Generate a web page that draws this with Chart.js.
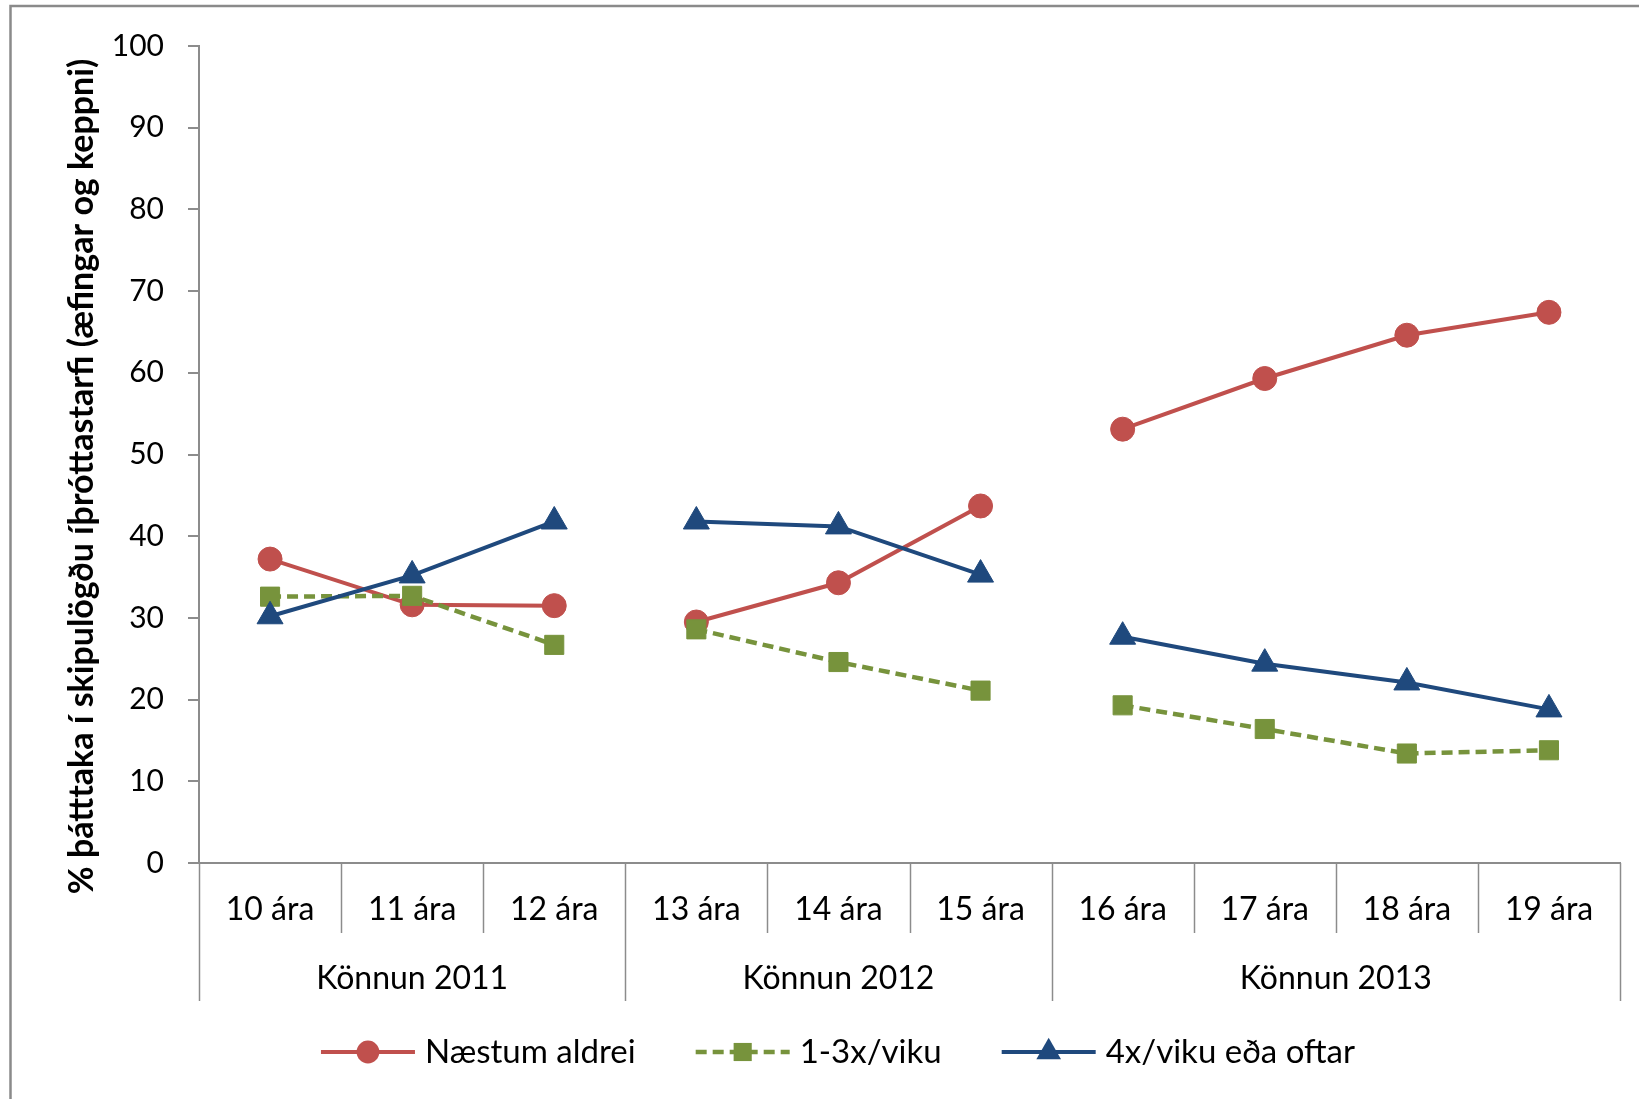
<!DOCTYPE html>
<html>
<head>
<meta charset="utf-8">
<script src="https://cdn.jsdelivr.net/npm/chart.js@4.4.1/dist/chart.umd.min.js"></script>
<style>
  html, body { margin: 0; padding: 0; background: #fff; }
  #wrap { width: 1639px; height: 1099px; position: relative; }
</style>
</head>
<body>
<div id="wrap"><canvas id="c" width="1639" height="1099"></canvas></div>
<script>
// Age groups along the x axis, grouped by survey year
const categories = ['10 ára', '11 ára', '12 ára', '13 ára', '14 ára', '15 ára', '16 ára', '17 ára', '18 ára', '19 ára'];
const surveyLabels = ['Könnun 2011', 'Könnun 2012', 'Könnun 2013'];
const surveySizes = [3, 3, 4];

// Participation shares (%)
const naestumAldrei = [37.2, 31.6, 31.5, 29.5, 34.3, 43.7, 53.1, 59.3, 64.6, 67.4];
const einsTilThrisvar = [32.6, 32.7, 26.7, 28.6, 24.6, 21.1, 19.3, 16.4, 13.4, 13.8];
const fjorumSinnumOftar = [30.2, 35.2, 41.8, 41.8, 41.2, 35.3, 27.7, 24.4, 22.1, 18.8];

const seriesNames = ['Næstum aldrei', '1-3x/viku', '4x/viku eða oftar'];
const yMin = 0, yMax = 100, yStep = 10;
const yTitle = '% þátttaka í skipulögðu íþróttastarfi (æfingar og keppni)';

const FONT = 'Lato, "Open Sans", sans-serif';
const AXIS_GREY = '#8c8c8c';

// Index of the last point in each survey (lines are not joined across surveys)
const surveyEnds = [];
surveySizes.reduce((acc, n) => { surveyEnds.push(acc + n - 1); return acc + n; }, 0);
const breakAfter = new Set(surveyEnds.slice(0, -1));
const segmentStyle = (color) => ({
  borderColor: ctx => breakAfter.has(ctx.p0DataIndex) ? 'rgba(0,0,0,0)' : color
});

const RED = '#C0504D', GREEN = '#77933C', BLUE = '#1F497D';

const datasets = [
  {
    label: seriesNames[0], data: naestumAldrei, order: 2,
    borderColor: RED, backgroundColor: RED, borderWidth: 4,
    pointStyle: 'circle', pointRadius: 12, pointBackgroundColor: RED, pointBorderColor: RED, pointBorderWidth: 1,
    segment: segmentStyle(RED)
  },
  {
    label: seriesNames[1], data: einsTilThrisvar, order: 1,
    borderColor: GREEN, backgroundColor: GREEN, borderWidth: 4.5, borderDash: [11, 6],
    pointStyle: 'rect', pointRadius: 13.5, pointBackgroundColor: GREEN, pointBorderColor: GREEN, pointBorderWidth: 1,
    segment: segmentStyle(GREEN)
  },
  {
    label: seriesNames[2], data: fjorumSinnumOftar, order: 0,
    borderColor: BLUE, backgroundColor: BLUE, borderWidth: 4,
    pointStyle: 'triangle', pointRadius: 15, pointBackgroundColor: BLUE, pointBorderColor: BLUE, pointBorderWidth: 1,
    segment: segmentStyle(BLUE)
  }
];

function drawMarker(ctx, style, x, y, r, color) {
  ctx.save();
  ctx.fillStyle = color;
  ctx.beginPath();
  if (style === 'circle') {
    ctx.arc(x, y, r, 0, Math.PI * 2);
  } else if (style === 'rect') {
    const s = r * Math.SQRT1_2;
    ctx.rect(x - s, y - s, 2 * s, 2 * s);
  } else {
    ctx.moveTo(x, y - r);
    ctx.lineTo(x + 0.866 * r, y + 0.5 * r);
    ctx.lineTo(x - 0.866 * r, y + 0.5 * r);
    ctx.closePath();
  }
  ctx.fill();
  ctx.restore();
}

const decorations = {
  id: 'decorations',
  beforeDraw(chart) {
    const ctx = chart.ctx;
    ctx.save();
    ctx.fillStyle = '#fff';
    ctx.fillRect(0, 0, chart.width, chart.height);
    ctx.strokeStyle = '#8a8a8a';
    ctx.lineWidth = 2.5;
    ctx.strokeRect(10.5, 6, chart.width + 50, chart.height + 50);
    ctx.restore();
  },
  afterDraw(chart) {
    const ctx = chart.ctx;
    const x = chart.scales.x;
    const area = chart.chartArea;
    const n = categories.length;
    const w = (area.right - area.left) / n;
    const edge = i => (i < n ? x.getPixelForValue(i) - w / 2 : x.getPixelForValue(n - 1) + w / 2);

    // Separators under the category axis
    const groupStarts = new Set([0, n]);
    surveySizes.reduce((acc, s) => { groupStarts.add(acc); return acc + s; }, 0);
    ctx.save();
    ctx.strokeStyle = AXIS_GREY;
    ctx.lineWidth = 1.5;
    for (let i = 0; i <= n; i++) {
      const px = Math.round(edge(i)) + 0.5;
      ctx.beginPath();
      ctx.moveTo(px, area.bottom);
      ctx.lineTo(px, groupStarts.has(i) ? area.bottom + 138 : area.bottom + 70);
      ctx.stroke();
    }

    // Survey labels
    ctx.fillStyle = '#000';
    ctx.font = '32px ' + FONT;
    ctx.textAlign = 'center';
    ctx.textBaseline = 'middle';
    let start = 0;
    surveySizes.forEach((s, gi) => {
      const cx = (edge(start) + edge(start + s)) / 2;
      ctx.fillText(surveyLabels[gi], cx, area.bottom + 116);
      start += s;
    });

    // Y axis title
    ctx.save();
    ctx.translate(82, (area.top + area.bottom) / 2 + 22);
    ctx.rotate(-Math.PI / 2);
    ctx.font = 'bold 34px ' + FONT;
    ctx.fillText(yTitle, 0, 0);
    ctx.restore();

    // Legend: line sample with marker, then name
    const sampleLen = 94, textGap = 10, itemGap = 60, ly = 1052;
    ctx.font = '33px ' + FONT;
    const widths = chart.data.datasets.map(d => sampleLen + textGap + ctx.measureText(d.label).width);
    const total = widths.reduce((a, b) => a + b, 0) + itemGap * (widths.length - 1);
    let lx = 838 - total / 2;
    chart.data.datasets.forEach((d, i) => {
      ctx.save();
      ctx.strokeStyle = d.borderColor;
      ctx.lineWidth = d.borderWidth;
      ctx.setLineDash(d.borderDash || []);
      ctx.beginPath();
      ctx.moveTo(lx, ly);
      ctx.lineTo(lx + sampleLen, ly);
      ctx.stroke();
      ctx.restore();
      drawMarker(ctx, d.pointStyle, lx + sampleLen / 2, ly, d.pointRadius * 0.95, d.pointBackgroundColor);
      ctx.textAlign = 'left';
      ctx.fillStyle = '#000';
      ctx.fillText(d.label, lx + sampleLen + textGap, ly);
      lx += widths[i] + itemGap;
    });
    ctx.restore();
  }
};

new Chart(document.getElementById('c'), {
  type: 'line',
  data: { labels: categories, datasets },
  options: {
    responsive: false,
    animation: false,
    devicePixelRatio: 1,
    layout: { padding: { top: 46, left: 0, right: 19, bottom: 0 } },
    plugins: { legend: { display: false }, tooltip: { enabled: false } },
    scales: {
      x: {
        type: 'category',
        offset: true,
        grid: { display: false, drawTicks: false },
        border: { display: true, color: AXIS_GREY, width: 2 },
        ticks: { color: '#000', font: { family: FONT, size: 32 }, padding: 27, maxRotation: 0, autoSkip: false },
        afterFit(scale) { scale.height = 236; }
      },
      y: {
        min: yMin, max: yMax,
        grid: { drawOnChartArea: false, drawTicks: true, tickLength: 11, color: AXIS_GREY, lineWidth: 2 },
        border: { display: true, color: AXIS_GREY, width: 2 },
        ticks: { stepSize: yStep, color: '#000', font: { family: FONT, size: 30 }, padding: 24 },
        afterFit(scale) { scale.width = 199; }
      }
    }
  },
  plugins: [decorations]
});
</script>
</body>
</html>
